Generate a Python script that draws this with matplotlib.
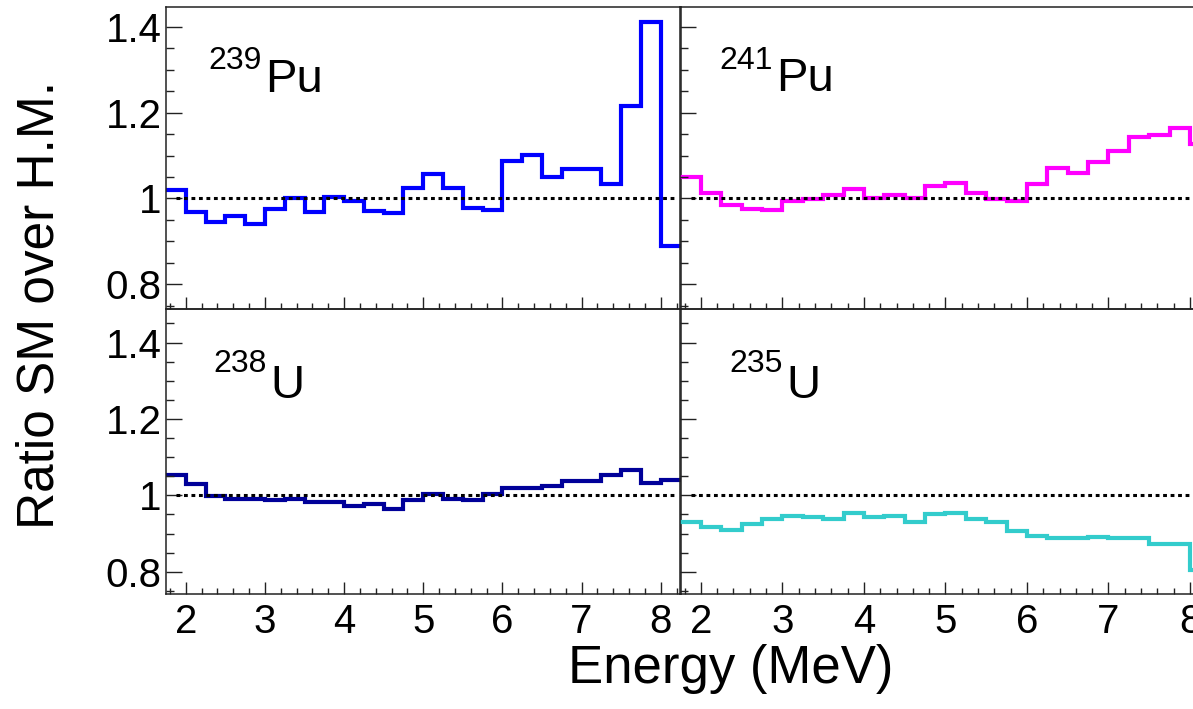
import numpy as np
import matplotlib
matplotlib.use("Agg")
import matplotlib.pyplot as plt
from matplotlib.ticker import MultipleLocator, FuncFormatter

plt.rcParams['font.family'] = ['Liberation Sans', 'DejaVu Sans']

# ---- data (0.25 MeV bins from 1.75 to 8.25 MeV) ----
bin_edges = np.arange(1.75, 8.25 + 1e-9, 0.25)

pu239 = [1.020, 0.969, 0.945, 0.958, 0.941, 0.976, 1.000, 0.969, 1.003, 0.994,
         0.970, 0.966, 1.025, 1.058, 1.025, 0.978, 0.973, 1.088, 1.102, 1.051,
         1.068, 1.068, 1.033, 1.215, 1.411, 0.890]
pu241 = [1.050, 1.013, 0.984, 0.976, 0.973, 0.995, 0.999, 1.007, 1.022, 1.002,
         1.009, 1.002, 1.029, 1.035, 1.013, 0.999, 0.995, 1.033, 1.072, 1.059,
         1.086, 1.110, 1.143, 1.149, 1.165, 1.127]
u238 = [1.052, 1.030, 0.997, 0.991, 0.991, 0.987, 0.991, 0.983, 0.983, 0.971,
        0.976, 0.965, 0.987, 1.004, 0.991, 0.987, 1.004, 1.019, 1.019, 1.024,
        1.037, 1.037, 1.054, 1.065, 1.032, 1.039]
u235 = [0.930, 0.916, 0.910, 0.925, 0.938, 0.947, 0.942, 0.938, 0.955, 0.942,
        0.947, 0.929, 0.951, 0.955, 0.938, 0.929, 0.907, 0.894, 0.888, 0.888,
        0.892, 0.888, 0.888, 0.872, 0.872, 0.805]

mass_numbers = ["239", "241", "238", "235"]
elements = ["Pu", "Pu", "U", "U"]
colors = ["#0000ff", "#ff00ff", "#000099", "#33cccc"]
series = [pu239, pu241, u238, u235]

x_ticks = [2, 3, 4, 5, 6, 7, 8]
y_ticks = [0.8, 1.0, 1.2, 1.4]

# ---- layout ----
W, H = 1193, 709
fig = plt.figure(figsize=(W / 100, H / 100), dpi=100)


def ax_px(x0, x1, ytop, ybot):
    return fig.add_axes([x0 / W, 1 - ybot / H, (x1 - x0) / W, (ybot - ytop) / H])


axes = [
    ax_px(166, 680.5, 7.3, 308.5),
    ax_px(680.5, 1210.4, 7.3, 308.5),
    ax_px(166, 680.5, 308.5, 593.5),
    ax_px(680.5, 1210.4, 308.5, 593.5),
]
ylims = [(0.743, 1.446), (0.743, 1.446), (0.743, 1.489), (0.743, 1.489)]

# label positions in pixels: (element left, baseline, mass right, mass baseline)
label_px = [
    (265, 92, 262, 69),
    (776, 91, 773, 69),
    (270, 398, 267, 372),
    (786, 398, 783, 372),
]

fmt = FuncFormatter(lambda v, p: ("%g" % round(v, 3)))

for i, ax in enumerate(axes):
    ax.stairs(series[i], bin_edges, baseline=None, color=colors[i], lw=3.0)
    ax.plot([1.875, 8.2], [1, 1], color='black', lw=2.2,
            linestyle=(0, (1.25, 1.2)))
    ax.set_xlim(1.75, 8.25)
    ax.set_ylim(*ylims[i])
    ax.set_xticks(x_ticks)
    ax.set_yticks(y_ticks)
    ax.xaxis.set_minor_locator(MultipleLocator(0.2))
    ax.yaxis.set_minor_locator(MultipleLocator(0.05))
    ax.yaxis.set_major_formatter(fmt)
    ax.tick_params(which='both', direction='in', top=False, right=False,
                   width=1.0, labelsize=29, color='#222222')
    ax.tick_params(axis='y', which='major', length=11.5, pad=3)
    ax.tick_params(axis='y', which='minor', length=5.5)
    ax.tick_params(axis='x', which='major', length=8.4, pad=7)
    ax.tick_params(axis='x', which='minor', length=4.3)
    for s in ax.spines.values():
        s.set_linewidth(1.1)
        s.set_color('#222222')
    if i in (0, 1):
        ax.tick_params(axis='x', labelbottom=False)
    if i in (1, 3):
        ax.tick_params(axis='y', labelleft=False)
    ax.set_facecolor('none')

    ex, eb, mx, mb = label_px[i]
    fig.text(ex / W, 1 - eb / H, elements[i], fontsize=34, ha='left',
             va='baseline')
    fig.text(mx / W, 1 - mb / H, mass_numbers[i], fontsize=23, ha='right',
             va='baseline')

fig.text(731 / W, 1 - 683 / H, "Energy (MeV)", fontsize=38, ha='center',
         va='baseline')
fig.text(40 / W, 1 - 305 / H, "Ratio SM over H.M.", fontsize=37,
         rotation=90, ha='center', va='center')

fig.savefig("out.png", dpi=100, facecolor='white')
